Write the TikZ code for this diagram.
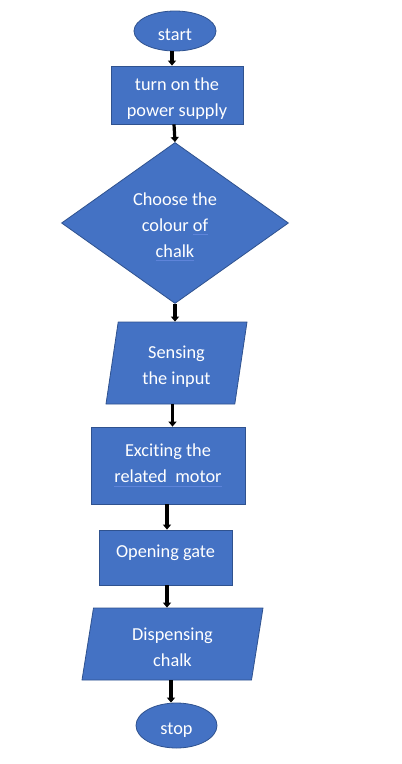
\documentclass[tikz,border=0pt]{standalone}
\usepackage{fontspec}
\setmainfont{Carlito}[Ligatures=NoCommon]
\usetikzlibrary{shapes.geometric}
\usetikzlibrary{arrows.meta}
\definecolor{boxblue}{HTML}{4472C4}
\definecolor{edgeblue}{HTML}{2F528F}
\definecolor{markblue}{HTML}{5E84DA}
\newcommand\spellmark[1]{\setbox0\hbox{#1}\rlap{\color{markblue}\rule[-4pt]{\wd0}{0.8pt}}\box0}
\newcommand\lowertext{\rule{0pt}{20pt}}
\newcommand\raisetext{\rule[-12pt]{0pt}{0pt}}

\begin{document}
\begin{tikzpicture}[x=1pt,y=-1pt,
			shape box/.style={draw=edgeblue,line width=0.8pt,fill=boxblue,text=white,
				align=center,inner sep=0pt,font=\fontsize{18.3}{26}\selectfont},
			block/.style={shape box,rectangle},
			terminal/.style={shape box,ellipse},
			decision/.style={shape box,diamond},
			io/.style={shape box,trapezium,trapezium left angle=76,trapezium right angle=104,
				trapezium stretches body},
			flow/.style={line width=3.2pt,-{Triangle[width=8pt,length=5pt]}}]
			\useasboundingbox[fill=white] (0,0) rectangle (402,764);
			
			\node[terminal,minimum width=82,minimum height=40] (start) at (175,31) {\lowertext start};
			\node[block,minimum width=132,minimum height=58] (power) at (177,95) {\lowertext turn on the\\power supply};
			\node[decision,minimum width=227,minimum height=161] (colour) at (175,223) {\lowertext Choose the\\colour \spellmark{of}\\\spellmark{chalk}};
			\node[io,minimum width=141,minimum height=82] (sense) at (176.5,363) {\lowertext Sensing\\the input};
			\node[block,minimum width=154,minimum height=77] (excite) at (168,465.5) {Exciting the\\\spellmark{related\ \ motor}};
			\node[block,minimum width=133,minimum height=55] (gate) at (165.5,557.5) {Opening gate\raisetext};
			\node[io,minimum width=181,minimum height=72] (dispense) at (172.5,644) {\lowertext Dispensing\\chalk};
			\node[terminal,minimum width=81,minimum height=45] (stop) at (176.5,725.5) {\lowertext stop};
			
			%arrows
			\draw[flow] ([xshift=-3]start.south) -- ([xshift=-3]start.south |- power.north);
			\draw[flow] ([xshift=-3]power.south) -- (colour.north);
			\draw[flow] (colour.south) -- (colour.south |- sense.north);
			\draw[flow] ([xshift=-4]sense.south) -- ([xshift=-4]sense.south |- excite.north);
			\draw[flow] ([xshift=-1]excite.south) -- ([xshift=-1]excite.south |- gate.north);
			\draw[flow] ([xshift=1.5]gate.south) -- ([xshift=1.5]gate.south |- dispense.north);
			\draw[flow] ([xshift=-1.5]dispense.south) -- ([xshift=-1.5]dispense.south |- stop.north);
		\end{tikzpicture}
\end{document}
